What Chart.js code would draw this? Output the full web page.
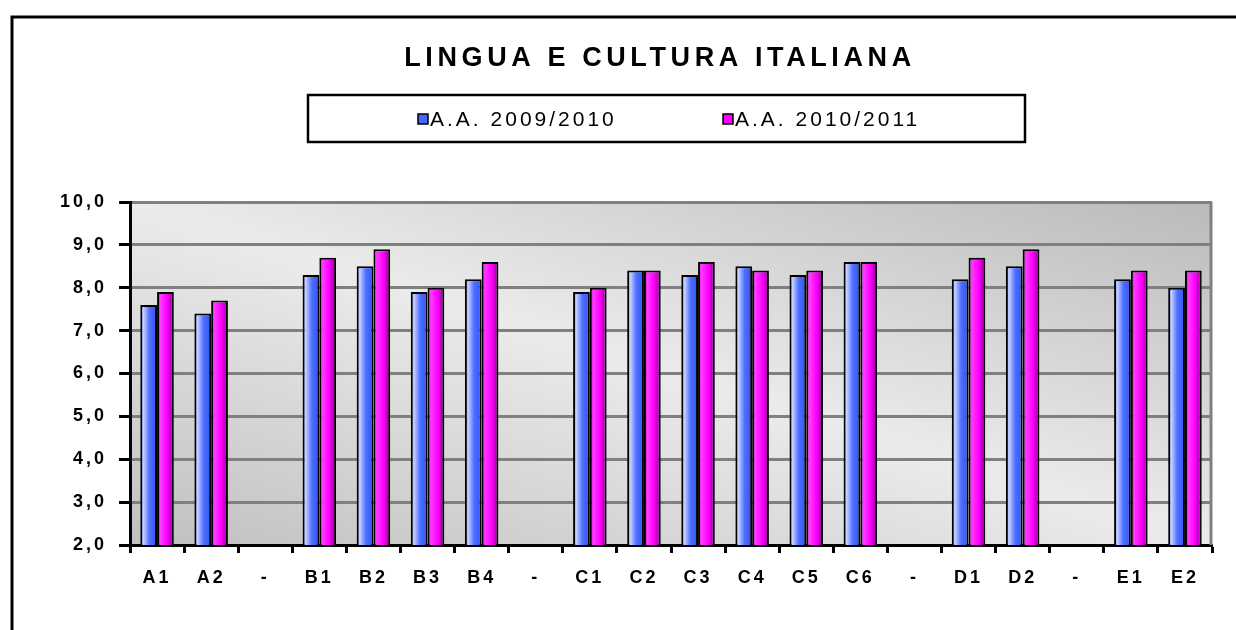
<!DOCTYPE html>
<html>
<head>
<meta charset="utf-8">
<script src="https://cdn.jsdelivr.net/npm/chart.js@4/dist/chart.umd.min.js"></script>
<style>
  html, body { margin: 0; padding: 0; background: #ffffff; }
  #wrap { width: 1236px; height: 630px; position: relative; }
</style>
</head>
<body>
<div id="wrap"><canvas id="c" width="1236" height="630"></canvas></div>
<script>
// ---- data ----
const chartTitle = 'LINGUA E CULTURA ITALIANA';
const categories = ['A1','A2','-','B1','B2','B3','B4','-','C1','C2','C3','C4','C5','C6','-','D1','D2','-','E1','E2'];
const seriesNames = ['A.A. 2009/2010', 'A.A. 2010/2011'];
const values2009 = [7.6, 7.4, null, 8.3, 8.5, 7.9, 8.2, null, 7.9, 8.4, 8.3, 8.5, 8.3, 8.6, null, 8.2, 8.5, null, 8.2, 8.0];
const values2010 = [7.9, 7.7, null, 8.7, 8.9, 8.0, 8.6, null, 8.0, 8.4, 8.6, 8.4, 8.4, 8.6, null, 8.7, 8.9, null, 8.4, 8.4];
const yTickLabels = ['2,0','3,0','4,0','5,0','6,0','7,0','8,0','9,0','10,0'];
const yMin = 2, yMax = 10;

// ---- styling ----
const CAT_PCT = 0.62;
const FONT = '"Liberation Sans", Arial, sans-serif';
const gradStops = [
  [[0, '#2f4fe8'], [0.18, '#c9d3ff'], [0.55, '#4f6fff'], [1, '#3050f5']],
  [[0, '#b800b8'], [0.2, '#ff3cff'], [0.6, '#ff00ff'], [1, '#8a008a']]
];
const solid = ['#4466ff', '#ff00ff'];

function barFill(ctx) {
  const chart = ctx.chart;
  if (!chart.chartArea || ctx.dataIndex === undefined) return solid[ctx.datasetIndex];
  const xs = chart.scales.x;
  const catW = xs.width / categories.length;
  const grp = catW * CAT_PCT;
  const barW = grp / 2;
  const left = xs.getPixelForValue(ctx.dataIndex) - grp / 2 + ctx.datasetIndex * barW;
  const g = chart.ctx.createLinearGradient(left, 0, left + barW, 0);
  gradStops[ctx.datasetIndex].forEach(s => g.addColorStop(s[0], s[1]));
  return g;
}

const decor = {
  id: 'decor',
  beforeDraw(chart) {
    const c = chart.ctx;
    const a = chart.chartArea;
    c.save();
    c.translate(a.left, a.top);
    c.scale(a.right - a.left, a.bottom - a.top);
    const g = c.createLinearGradient(0, 1, 1, 0);
    g.addColorStop(0, '#c0c0c0');
    g.addColorStop(0.5, '#ebebeb');
    g.addColorStop(1, '#bababa');
    c.fillStyle = g;
    c.fillRect(0, 0, 1, 1);
    c.restore();
    chart.ctx.letterSpacing = '3px';
  },
  beforeDatasetsDraw(chart) {
    const c = chart.ctx;
    const a = chart.chartArea;
    c.save();
    c.strokeStyle = '#808080';
    c.lineWidth = 3;
    c.beginPath();
    c.moveTo(a.right - 1, a.top);
    c.lineTo(a.right - 1, a.bottom);
    c.stroke();
    c.restore();
  },
  afterDraw(chart) {
    const c = chart.ctx;
    c.save();
    // outer frame
    c.strokeStyle = '#000';
    c.lineWidth = 3;
    c.beginPath();
    c.moveTo(12, 630);
    c.lineTo(12, 17);
    c.lineTo(1236, 17);
    c.stroke();
    // title
    c.fillStyle = '#000';
    c.font = 'bold 27px ' + FONT;
    c.letterSpacing = '4.6px';
    c.textAlign = 'center';
    c.textBaseline = 'middle';
    c.fillText(chartTitle, 660, 59);
    // legend box
    c.lineWidth = 2.5;
    c.strokeRect(308, 95, 717, 47);
    c.font = '21px ' + FONT;
    c.letterSpacing = '3px';
    c.textAlign = 'left';
    const lx = [418, 723];
    seriesNames.forEach((name, i) => {
      c.fillStyle = solid[i];
      c.fillRect(lx[i], 114, 10, 10);
      c.lineWidth = 1.5;
      c.strokeStyle = '#000';
      c.strokeRect(lx[i], 114, 10, 10);
      c.fillStyle = '#000';
      c.fillText(name, lx[i] + 12, 120);
    });
    c.restore();
  }
};

new Chart(document.getElementById('c'), {
  type: 'bar',
  data: {
    labels: categories,
    datasets: [
      { label: seriesNames[0], data: values2009, backgroundColor: barFill, borderColor: '#000', borderWidth: 2 },
      { label: seriesNames[1], data: values2010, backgroundColor: barFill, borderColor: '#000', borderWidth: 2 }
    ]
  },
  options: {
    responsive: false,
    animation: false,
    devicePixelRatio: 1,
    layout: { padding: { top: 202, left: 0, right: 24, bottom: 0 } },
    datasets: { bar: { barPercentage: 1.0, categoryPercentage: CAT_PCT } },
    plugins: { legend: { display: false }, title: { display: false }, tooltip: { enabled: false } },
    scales: {
      x: {
        afterFit(s) { s.height = 85; },
        grid: { offset: true, drawOnChartArea: false, tickLength: 8, tickColor: '#000', tickWidth: 3 },
        border: { color: '#000', width: 3 },
        ticks: { autoSkip: false, maxRotation: 0, color: '#000', padding: 14, font: { family: FONT, size: 18, weight: 'bold' } }
      },
      y: {
        min: yMin, max: yMax,
        afterFit(s) { s.width = 130; },
        grid: { color: '#808080', lineWidth: 3, tickLength: 11, tickColor: '#000', tickWidth: 3 },
        border: { color: '#000', width: 3 },
        ticks: {
          stepSize: 1, color: '#000', padding: 12,
          font: { family: FONT, size: 18, weight: 'bold' },
          callback: (v) => yTickLabels[v - yMin]
        }
      }
    }
  },
  plugins: [decor]
});
</script>
</body>
</html>
